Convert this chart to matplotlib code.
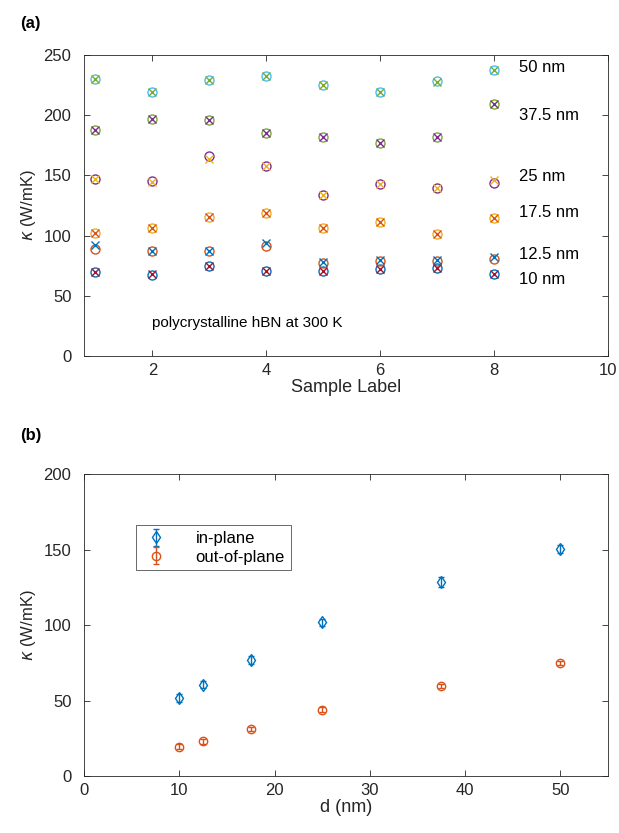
import numpy as np
import matplotlib
matplotlib.use("Agg")
import matplotlib.pyplot as plt

plt.rcParams['font.family'] = ['Liberation Sans', 'DejaVu Sans']
plt.rcParams['mathtext.fontset'] = 'dejavusans'

# ----------------------------------------------
# DATA
# ----------------------------------------------
samples = [1, 2, 3, 4, 5, 6, 7, 8]
thickness_labels = ["10 nm", "12.5 nm", "17.5 nm", "25 nm", "37.5 nm", "50 nm"]

# circles (first measurement)
k_circ = [
    [69.5, 67.0, 74.5, 70.5, 71.0, 72.5, 73.0, 68.0],          # 10 nm
    [89.0, 87.3, 87.5, 91.7, 77.0, 79.0, 79.0, 81.0],          # 12.5 nm
    [102.0, 106.5, 115.5, 118.5, 106.0, 111.0, 101.5, 114.7],  # 17.5 nm
    [147.0, 145.5, 166.5, 157.5, 134.0, 142.5, 139.5, 143.5],  # 25 nm
    [187.5, 197.0, 196.0, 185.5, 182.0, 177.0, 182.0, 209.0],  # 37.5 nm
    [230.0, 219.5, 229.0, 232.5, 225.0, 219.5, 228.5, 238.0],  # 50 nm
]
# crosses (second measurement)
k_cross = [
    [69.5, 68.0, 74.5, 70.5, 71.0, 72.5, 73.0, 68.0],
    [92.5, 87.3, 87.5, 94.0, 78.0, 79.5, 80.0, 82.5],
    [102.0, 106.5, 115.5, 118.5, 106.0, 111.0, 101.5, 114.7],
    [147.0, 144.5, 164.0, 157.5, 134.0, 142.5, 139.5, 146.5],
    [187.5, 197.0, 196.0, 185.5, 182.0, 177.0, 182.0, 209.0],
    [230.0, 219.5, 229.0, 232.5, 225.0, 219.5, 228.0, 238.0],
]
label_y = [63.5, 84.5, 119.5, 149.5, 200.0, 240.0]

d_nm = [10, 12.5, 17.5, 25, 37.5, 50]
k_in = [51.5, 60.5, 77.0, 101.8, 128.5, 150.5]
k_in_err = [2.5, 2.5, 2.5, 2.5, 3.0, 2.5]
k_out = [19.5, 23.0, 31.2, 44.0, 59.5, 75.0]
k_out_err = [1.5, 1.5, 1.5, 1.5, 1.5, 1.5]

# MATLAB default colour order
mcol = ['#0072BD', '#D95319', '#EDB120', '#7E2F8E', '#77AC30', '#4DBEEE', '#A2142F']
axcol = '#262626'


def matlab_axes(ax):
    for s in ax.spines.values():
        s.set_color(axcol)
        s.set_linewidth(0.6)
    ax.tick_params(direction='in', top=True, right=True, length=4,
                   width=0.6, color=axcol, labelsize=12, labelcolor=axcol)
    ax.tick_params(axis='y', pad=9)
    ax.tick_params(axis='x', pad=5)


fig = plt.figure(figsize=(6.19, 8.33), dpi=100)

# ----------------------------------------------
# (a) kappa vs sample
# ----------------------------------------------
ax1 = fig.add_axes([0.1357, 0.5726, 0.8465, 0.3613])
for i in range(len(k_circ)):
    ax1.plot(samples, k_circ[i], 'o', mfc='none', mec=mcol[i], ms=6.5, mew=1.0)
for i in range(len(k_cross)):
    ax1.plot(samples, k_cross[i], 'x', color=mcol[(i + 6) % 7], ms=5.5, mew=1.0)
for lab, yy in zip(thickness_labels, label_y):
    ax1.text(8.43, yy, lab, fontsize=12, va='center', ha='left', color='black')
ax1.text(2.0, 27.5, "polycrystalline hBN at 300 K", fontsize=11, va='center',
         ha='left', color='black')
ax1.set_xlim(0.8, 10)
ax1.set_ylim(0, 250)
ax1.set_xticks([2, 4, 6, 8, 10])
ax1.set_yticks([0, 50, 100, 150, 200, 250])
ax1.set_xlabel("Sample Label", fontsize=13, color=axcol, labelpad=1)
ax1.set_ylabel(r"$\kappa$ (W/mK)", fontsize=12, color=axcol, labelpad=4)
matlab_axes(ax1)

# ----------------------------------------------
# (b) kappa vs thickness
# ----------------------------------------------
ax2 = fig.add_axes([0.1357, 0.0684, 0.8465, 0.3625])
ax2.errorbar(d_nm, k_in, yerr=k_in_err, fmt='d', mfc='none', mec=mcol[0],
             ecolor=mcol[0], ms=6.5, mew=1.0, elinewidth=1.0, capsize=2.5,
             label="in-plane")
ax2.errorbar(d_nm, k_out, yerr=k_out_err, fmt='o', mfc='none', mec=mcol[1],
             ecolor=mcol[1], ms=6, mew=1.0, elinewidth=1.0, capsize=2.5,
             label="out-of-plane")
ax2.set_xlim(0, 55)
ax2.set_ylim(0, 200)
ax2.set_xticks([0, 10, 20, 30, 40, 50])
ax2.set_yticks([0, 50, 100, 150, 200])
ax2.set_xlabel("d (nm)", fontsize=13, color=axcol, labelpad=1)
ax2.set_ylabel(r"$\kappa$ (W/mK)", fontsize=12, color=axcol, labelpad=4)
matlab_axes(ax2)
leg = ax2.legend(loc='upper left', bbox_to_anchor=(0.1, 0.83), fontsize=12,
                 frameon=True, fancybox=False, edgecolor=axcol,
                 borderpad=0.35, handletextpad=1.6, labelspacing=0.2,
                 borderaxespad=0, handlelength=1.6)
leg.get_frame().set_linewidth(0.6)

fig.text(0.032, 0.972, "(a)", fontsize=12, fontweight='bold', va='center')
fig.text(0.032, 0.477, "(b)", fontsize=12, fontweight='bold', va='center')

fig.savefig("out.png", dpi=100)
